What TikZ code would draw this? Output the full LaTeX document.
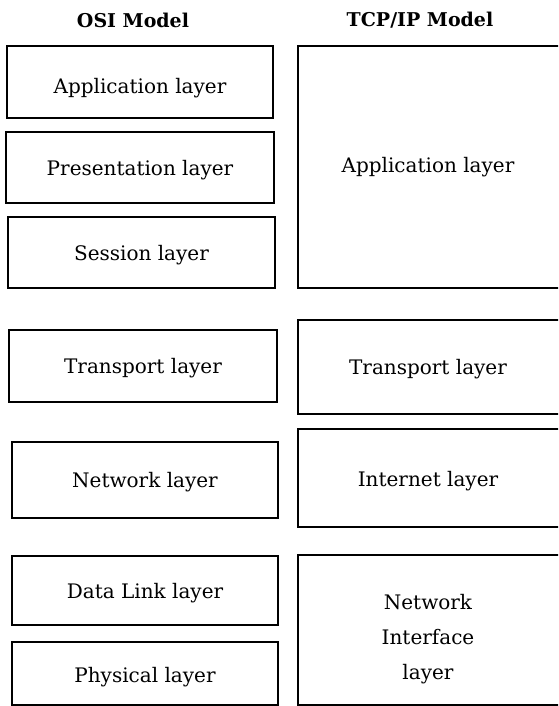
\documentclass[tikz,border=0pt]{standalone}
\usepackage{fontspec}
\setmainfont{DejaVu Serif}
\begin{document}
\begin{tikzpicture}[x=1pt,y=-1pt,
  layerbox/.style={draw=black, line width=1.6pt, rectangle, inner sep=0pt},
  layertext/.style={inner sep=0pt, align=center, font=\fontsize{20}{35}\selectfont},
  titletext/.style={font=\bfseries\fontsize{19}{22}\selectfont}]
\useasboundingbox (0,0) rectangle (558,706);
\clip (0,0) rectangle (558,706);
% titles
\node[titletext] (osititle) at (133,20) {OSI Model};
\node[titletext] (tcptitle) at (420,20) {TCP/IP Model};
% OSI column
\node[layerbox, minimum width=266pt, minimum height=72pt] (osiapp) at (140,82) {};
\node[layerbox, minimum width=268pt, minimum height=71pt] (osipres) at (140,167.5) {};
\node[layerbox, minimum width=267pt, minimum height=71pt] (osisess) at (141.5,252.5) {};
\node[layerbox, minimum width=268pt, minimum height=72pt] (ositrans) at (143,366) {};
\node[layerbox, minimum width=266pt, minimum height=76pt] (osinet) at (145,480) {};
\node[layerbox, minimum width=266pt, minimum height=69pt] (osidl) at (145,590.5) {};
\node[layerbox, minimum width=266pt, minimum height=63pt] (osiphys) at (145,673.5) {};
\node[layertext] (osiapptext) at ([yshift=-6pt]osiapp.center) {Application layer};
\node[layertext] (osiprestext) at ([yshift=-3pt]osipres.center) {Presentation layer};
\node[layertext] (osisesstext) at ([yshift=-3pt]osisess.center) {Session layer};
\node[layertext] (ositranstext) at ([yshift=-2pt]ositrans.center) {Transport layer};
\node[layertext] (osinettext) at ([yshift=-2pt]osinet.center) {Network layer};
\node[layertext] (osidltext) at ([yshift=-3pt]osidl.center) {Data Link layer};
\node[layertext] (osiphystext) at ([yshift=-4pt]osiphys.center) {Physical layer};
% TCP/IP column (right edges run past the page edge)
\node[layerbox, minimum width=266pt, minimum height=242pt] (tcpapp) at (431,167) {};
\node[layerbox, minimum width=266pt, minimum height=94pt] (tcptrans) at (431,367) {};
\node[layerbox, minimum width=266pt, minimum height=98pt] (tcpinet) at (431,478) {};
\node[layerbox, minimum width=266pt, minimum height=150pt] (tcpnet) at (431,630) {};
\node[layertext] (tcpapptext) at ([xshift=-3pt]tcpapp.center) {Application layer};
\node[layertext] (tcptranstext) at ([xshift=-3pt,yshift=-2pt]tcptrans.center) {Transport layer};
\node[layertext] (tcpinettext) at ([xshift=-3pt,yshift=-3pt]tcpinet.center) {Internet layer};
\node[layertext] (tcpnettext) at ([xshift=-3pt,yshift=-9pt]tcpnet.center) {Network\\Interface\\layer};
\end{tikzpicture}
\end{document}
